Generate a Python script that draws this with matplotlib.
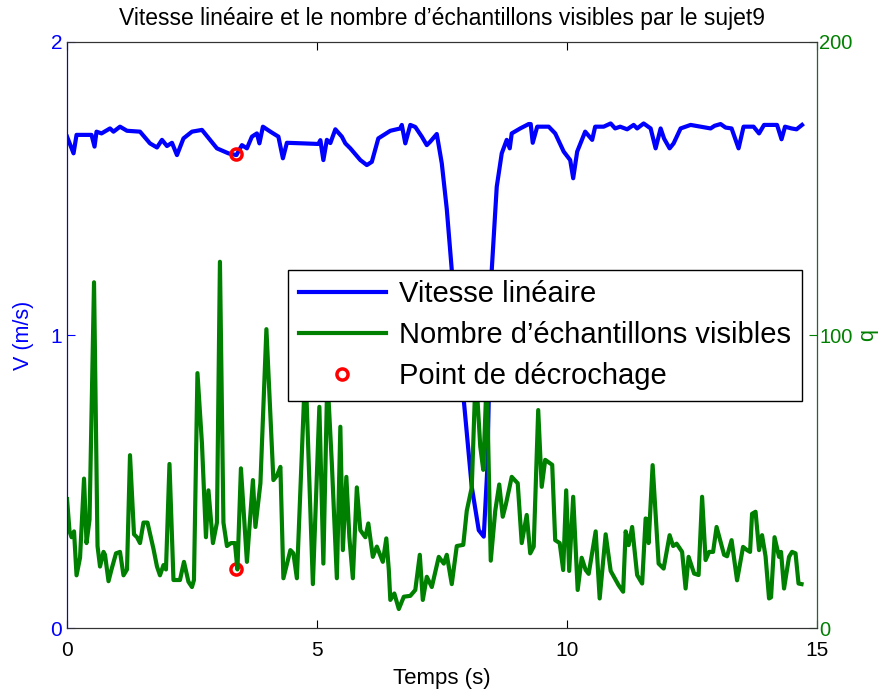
import matplotlib
matplotlib.use("Agg")
import matplotlib.pyplot as plt

plt.rcParams['font.family'] = ['Liberation Sans', 'DejaVu Sans']

# vitesse linéaire (m/s)
t_v = [0.0, 0.13, 0.19, 0.49, 0.55, 0.59, 0.69, 0.86, 0.93, 1.06, 1.2, 1.46, 1.66, 1.8, 1.9, 2.0,
       2.1, 2.2, 2.33, 2.5, 2.7, 3.0, 3.23, 3.39, 3.5, 3.6, 3.7, 3.8, 3.85, 3.92, 4.07, 4.23,
       4.32, 4.4, 4.73, 5.03, 5.07, 5.13, 5.2, 5.27, 5.37, 5.5, 5.57, 5.67, 5.87, 6.0, 6.1,
       6.23, 6.47, 6.67, 6.7, 6.77, 6.87, 6.97, 7.1, 7.2, 7.27, 7.4, 7.5, 7.6, 7.7, 7.94,
       8.1, 8.24, 8.34, 8.41, 8.44, 8.5, 8.6, 8.7, 8.8, 8.86, 8.9, 9.07, 9.24, 9.28, 9.32,
       9.41, 9.64, 9.77, 9.94, 10.07, 10.13, 10.21, 10.37, 10.51, 10.57, 10.74, 10.88, 10.97,
       11.07, 11.21, 11.34, 11.41, 11.54, 11.68, 11.78, 11.88, 11.95, 12.06, 12.14, 12.28,
       12.48, 12.68, 12.88, 12.96, 13.08, 13.18, 13.3, 13.44, 13.54, 13.74, 13.85, 13.95,
       14.21, 14.3, 14.37, 14.5, 14.6, 14.71]
vitesse = [1.677, 1.62, 1.683, 1.683, 1.643, 1.694, 1.688, 1.705, 1.694, 1.711, 1.697, 1.694,
           1.654, 1.64, 1.666, 1.645, 1.656, 1.614, 1.671, 1.694, 1.70, 1.637, 1.62, 1.614,
           1.648, 1.637, 1.677, 1.688, 1.654, 1.711, 1.694, 1.677, 1.603, 1.656, 1.654, 1.652,
           1.665, 1.597, 1.666, 1.655, 1.702, 1.677, 1.654, 1.637, 1.597, 1.58, 1.591, 1.671,
           1.697, 1.705, 1.717, 1.654, 1.717, 1.71, 1.677, 1.648, 1.66, 1.686, 1.586, 1.43,
           1.222, 0.778, 0.482, 0.334, 0.312, 0.539, 0.778, 1.222, 1.506, 1.62, 1.666, 1.637,
           1.688, 1.705, 1.72, 1.72, 1.656, 1.711, 1.711, 1.688, 1.626, 1.597, 1.535, 1.626,
           1.694, 1.666, 1.711, 1.711, 1.722, 1.705, 1.711, 1.702, 1.717, 1.705, 1.722, 1.705,
           1.637, 1.705, 1.67, 1.637, 1.654, 1.705, 1.717, 1.711, 1.705, 1.714, 1.72, 1.708,
           1.705, 1.637, 1.711, 1.711, 1.688, 1.717, 1.717, 1.668, 1.711, 1.705, 1.702, 1.717]

# nombre d'échantillons visibles
t_q = [0.0, 0.05, 0.09, 0.14, 0.19, 0.26, 0.34, 0.39, 0.45, 0.54, 0.61, 0.66, 0.73, 0.76,
       0.83, 0.89, 0.98, 1.06, 1.13, 1.2, 1.26, 1.34, 1.4, 1.46, 1.53, 1.61, 1.73, 1.8, 1.86,
       1.93, 1.98, 2.05, 2.13, 2.26, 2.34, 2.43, 2.5, 2.54, 2.61, 2.7, 2.78, 2.83, 2.92, 3.0,
       3.06, 3.13, 3.2, 3.28, 3.36, 3.41, 3.48, 3.6, 3.72, 3.77, 3.87, 3.99, 4.13, 4.2, 4.27,
       4.33, 4.47, 4.53, 4.6, 4.77, 4.92, 5.05, 5.13, 5.21, 5.3, 5.4, 5.47, 5.52, 5.59, 5.65,
       5.72, 5.8, 5.87, 5.97, 6.03, 6.12, 6.2, 6.32, 6.39, 6.44, 6.47, 6.55, 6.64, 6.74, 6.87,
       6.97, 7.06, 7.12, 7.2, 7.3, 7.44, 7.54, 7.6, 7.7, 7.8, 7.93, 8.0, 8.1, 8.18, 8.27,
       8.33, 8.4, 8.48, 8.57, 8.65, 8.72, 8.78, 8.9, 9.02, 9.1, 9.2, 9.27, 9.34, 9.43, 9.5,
       9.57, 9.71, 9.77, 9.86, 9.93, 9.99, 10.05, 10.13, 10.22, 10.3, 10.38, 10.44, 10.58,
       10.66, 10.78, 10.88, 11.04, 11.13, 11.18, 11.24, 11.31, 11.41, 11.51, 11.58, 11.62,
       11.64, 11.72, 11.84, 11.94, 12.06, 12.13, 12.2, 12.31, 12.38, 12.44, 12.55, 12.64,
       12.71, 12.78, 12.85, 12.93, 13.0, 13.15, 13.21, 13.3, 13.41, 13.53, 13.61, 13.67,
       13.71, 13.78, 13.85, 13.91, 13.98, 14.05, 14.09, 14.16, 14.25, 14.29, 14.35, 14.45,
       14.51, 14.58, 14.64, 14.7]
nb_visibles = [44, 33, 31, 33, 18, 24, 51, 29, 37, 118, 28, 21, 26, 25, 16, 20, 25.5, 26, 18,
               20, 59, 32, 31, 29, 36, 36, 27, 21, 18, 21.5, 20, 56, 16.4, 16.4, 22.6, 15.8, 14,
               16.4, 87, 63, 31, 47, 29, 36, 125, 36, 28, 29, 29, 20, 54.5, 22.6, 50.5, 34.5,
               49.4, 102, 50.5, 52, 55, 17, 26.6, 25.5, 17, 90, 15, 75.5, 22, 86, 56, 17, 68.7,
               26.6, 51.6, 31, 17, 48, 33.4, 31, 35.7, 24.3, 27.8, 22.6, 30.6, 19.8, 9.6, 11.8,
               6.5, 10.7, 11, 13, 25, 9.6, 17.5, 14, 24.3, 22, 25, 15, 28, 28.4, 40, 48, 88, 62,
               54, 86, 23, 40, 49, 38, 42, 51.6, 49.4, 29, 38.6, 25.5, 27.8, 74.4, 48.2, 57.4,
               55.7, 30, 29, 19.8, 47, 19.5, 44.8, 13, 24, 19.8, 18.5, 33, 10.1, 32, 19.5, 14.6,
               12.4, 33, 28.3, 34.5, 18.1, 15.2, 37.4, 37, 29, 55.6, 22, 20.3, 31.7, 28, 28.8,
               26, 13.5, 24.3, 18.6, 18.1, 44.8, 23.2, 26, 26, 34.5, 25, 24.5, 30, 16.3, 27.7,
               26.6, 26, 39, 39.7, 26.6, 31.7, 24.5, 10.1, 10.5, 31, 24.3, 26, 13.5, 24.3, 26,
               25.5, 15.2, 15]

# points de décrochage
t_decroch = [3.39, 3.39]
v_decroch = [1.617, 0.2]

green = (0, 0.5, 0)

fig = plt.figure(figsize=(8.88, 6.94), dpi=100)
ax = fig.add_axes([0.0755, 0.095, 0.844, 0.8445])
ax2 = ax.twinx()

l1, = ax.plot(t_v, vitesse, color=(0, 0, 1), lw=3, label='Vitesse linéaire')
l3, = ax.plot(t_decroch, v_decroch, 'o', color='red', mfc='none', ms=8, mew=2.5,
              label='Point de décrochage')
l2, = ax2.plot(t_q, nb_visibles, color=green, lw=3, label='Nombre d’échantillons visibles')

ax.set_xlim(0, 15)
ax.set_ylim(0, 2)
ax2.set_ylim(0, 200)
ax.set_xticks([0, 5, 10, 15])
ax.set_yticks([0, 1, 2])
ax2.set_yticks([0, 100, 200])

ax.tick_params(axis='x', direction='in', top=True, length=6, labelsize=15, pad=9)
ax.tick_params(axis='y', direction='in', length=6, labelsize=15, colors='blue')
ax2.tick_params(axis='y', direction='in', length=6, labelsize=14.5, colors=green, pad=2)

for a in (ax, ax2):
    a.spines['top'].set_color('#333333')
    a.spines['bottom'].set_color('#333333')
ax2.spines['left'].set_color('blue')
ax2.spines['right'].set_color(green)

ax.set_xlabel('Temps (s)', fontsize=16, labelpad=6)
ax.set_ylabel('V (m/s)', fontsize=15.5, color='blue', labelpad=12)
ax2.set_ylabel('q', fontsize=15.5, color=green, labelpad=3)
ax.set_title('Vitesse linéaire et le nombre d’échantillons visibles par le sujet9',
             fontsize=16.5, pad=12)

leg = ax2.legend(handles=[l1, l2, l3], loc='upper right', bbox_to_anchor=(0.98, 0.611),
                 borderaxespad=0, fontsize=21, frameon=True, fancybox=False, framealpha=1,
                 edgecolor='black', handlelength=3.0, handletextpad=0.45,
                 borderpad=0.35, labelspacing=0.45)
leg.get_frame().set_linewidth(1)

fig.savefig('out.png', dpi=100)
